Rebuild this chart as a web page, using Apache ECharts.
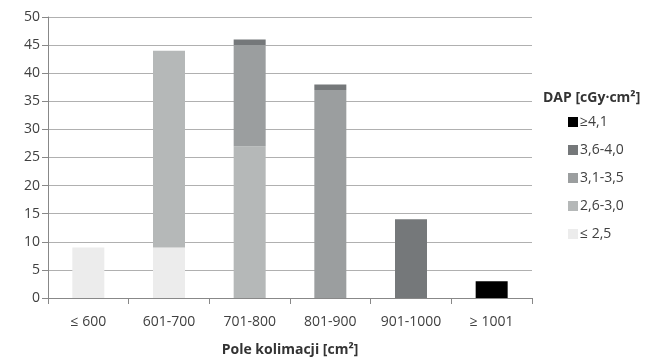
<!DOCTYPE html>
<html><head><meta charset="utf-8">
<script src="https://cdn.jsdelivr.net/npm/echarts@6/dist/echarts.min.js"></script>
<style>html,body{margin:0;padding:0;background:#fff}#c{width:652px;height:357px}</style>
</head><body><div id="c"></div>
<script>
const categories = ['≤ 600', '601-700', '701-800', '801-900', '901-1000', '≥ 1001'];
const seriesNames = ['≤ 2,5', '2,6-3,0', '3,1-3,5', '3,6-4,0', '≥4,1'];
const s_le25 = [9, 9, 0, 0, 0, 0];
const s_26_30 = [0, 35, 27, 0, 0, 0];
const s_31_35 = [0, 0, 18, 37, 0, 0];
const s_36_40 = [0, 0, 1, 1, 14, 0];
const s_ge41 = [0, 0, 0, 0, 0, 3];
const yTicks = [0, 5, 10, 15, 20, 25, 30, 35, 40, 45, 50];
const colors = ['#ececec', '#b5b8b8', '#9b9e9f', '#75787a', '#000000'];
const values = [s_le25, s_26_30, s_31_35, s_36_40, s_ge41];

const font = 'Open Sans';
const chart = echarts.init(document.getElementById('c'));
chart.setOption({
  animation: false,
  textStyle: { fontFamily: font },
  title: {
    text: 'DAP [cGy·cm²]', left: 538, top: 86,
    textStyle: { fontFamily: font, fontSize: 14, fontWeight: 'bold', color: '#333' }
  },
  legend: {
    orient: 'vertical', left: 563, top: 110, itemGap: 14,
    itemWidth: 10, itemHeight: 10, icon: 'rect',
    data: seriesNames.slice().reverse(),
    textStyle: { fontFamily: font, fontSize: 14, color: '#404040', padding: [0, 0, 0, -3] }
  },
  grid: { left: 48, right: 120, top: 17, bottom: 59, outerBoundsMode: 'none' },
  xAxis: {
    type: 'category', data: categories,
    name: 'Pole kolimacji [cm²]', nameLocation: 'middle', nameGap: 45,
    nameTextStyle: { fontFamily: font, fontSize: 14, fontWeight: 'bold', color: '#333' },
    axisLine: { lineStyle: { color: '#888' } },
    axisTick: { show: true, length: 6, lineStyle: { color: '#888' } },
    axisLabel: { fontFamily: font, fontSize: 14, color: '#404040', margin: 17, interval: 0 }
  },
  yAxis: {
    type: 'value', min: 0, max: 50, interval: 5,
    axisLine: { show: true, lineStyle: { color: '#888' } },
    axisTick: { show: true, length: 6, lineStyle: { color: '#888' } },
    splitLine: { lineStyle: { color: '#b0b0b0' } },
    axisLabel: { fontFamily: font, fontSize: 14, color: '#404040', margin: 8,
      formatter: v => yTicks.includes(v) ? String(v) : '' }
  },
  series: seriesNames.map((n, i) => ({
    name: n, type: 'bar', stack: 'a', data: values[i],
    barWidth: 32, itemStyle: { color: colors[i] }
  }))
});
</script></body></html>
